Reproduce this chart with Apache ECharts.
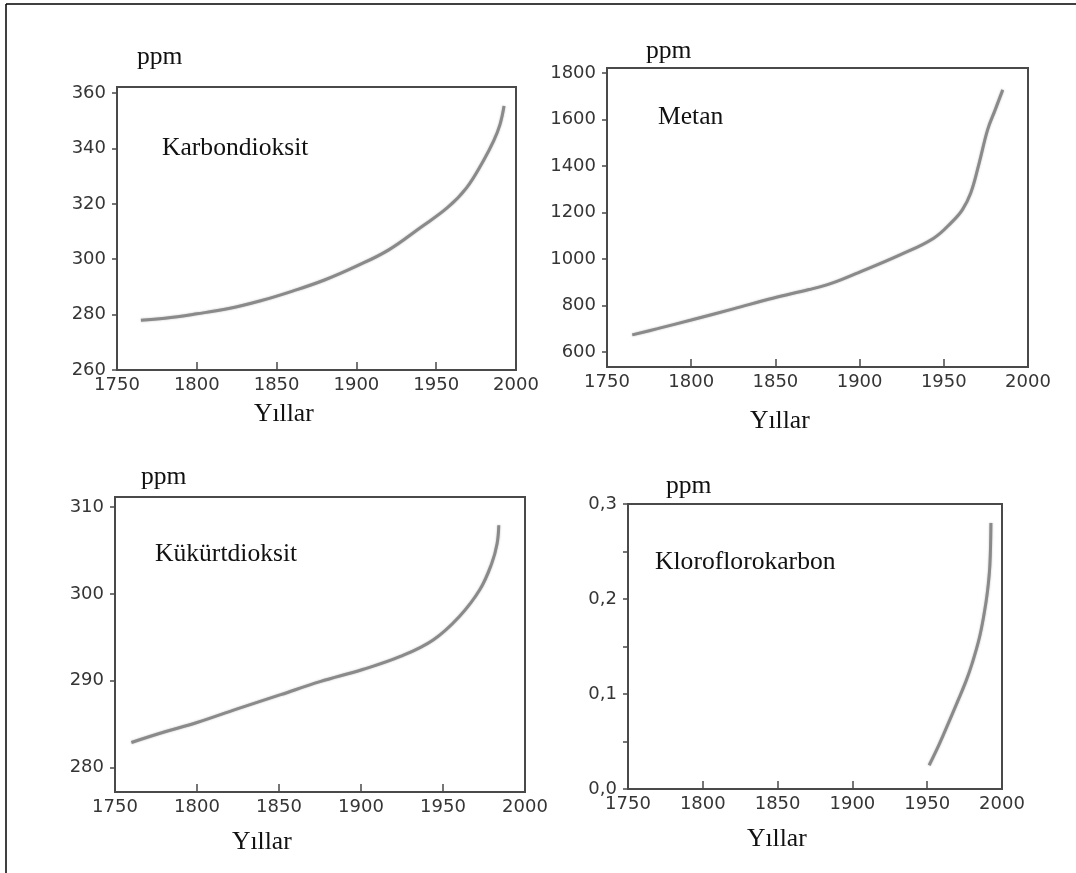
<!DOCTYPE html>
<html>
<head>
<meta charset="utf-8">
<title>Sera gazları</title>
<script src="https://cdn.jsdelivr.net/npm/echarts@6/dist/echarts.min.js"></script>
<style>
  html, body { margin: 0; padding: 0; background: #fff; }
  #chart { width: 1076px; height: 873px; }
</style>
</head>
<body>
<div id="chart"></div>
<script>
// veriler (grafikten okunmuş tahmini değerler)
var yearTicks = [1750, 1800, 1850, 1900, 1950, 2000];

var co2Years = [1765, 1780, 1800, 1820, 1840, 1860, 1880, 1900, 1920, 1940, 1957, 1969, 1979.5, 1986, 1990, 1992.5];
var co2Values = [278, 278.7, 280.3, 282.2, 285, 288.5, 292.5, 297.5, 303.3, 311.4, 318.6, 325.8, 335.5, 342.7, 348.7, 355.3];
var co2Ticks = [260, 280, 300, 320, 340, 360];

var ch4Years = [1765, 1780, 1800, 1825, 1849, 1870, 1884, 1899, 1924, 1944, 1955, 1961, 1966, 1971, 1976, 1980.5, 1985];
var ch4Values = [673, 700, 737, 785, 832, 868, 897, 940, 1017, 1089, 1160, 1211, 1283, 1412, 1555, 1641, 1727];
var ch4Ticks = [600, 800, 1000, 1200, 1400, 1600, 1800];

var so2Years = [1760, 1780, 1800, 1825, 1851, 1875, 1901, 1924, 1944, 1960, 1972.5, 1979.7, 1983, 1984];
var so2Values = [282.9, 284.1, 285.2, 286.8, 288.4, 289.9, 291.3, 292.8, 294.7, 297.4, 300.5, 303.5, 305.8, 307.9];
var so2Ticks = [280, 290, 300, 310];

var cfcYears = [1951.3, 1958, 1964.6, 1970, 1975.8, 1980, 1984.7, 1988, 1990.3, 1991.9, 1992.6];
var cfcValues = [0.025, 0.047, 0.071, 0.091, 0.113, 0.132, 0.158, 0.184, 0.208, 0.236, 0.28];
var cfcLabelTicks = [0, 0.1, 0.2, 0.3];
var cfcTicks = [0, 0.05, 0.1, 0.15, 0.2, 0.25, 0.3];

function pairs(xs, ys) {
  return xs.map(function (x, i) { return [x, ys[i]]; });
}

var chart = echarts.init(document.getElementById('chart'), null, { renderer: 'canvas' });

var tickFont = { fontFamily: 'DejaVu Sans', fontSize: 18, color: '#353535' };
var boxColor = '#4a4a4a';
var lineColor = '#8a8a8a';
var plainFmt = function (v) { return String(v); };
var commaFmt = function (v) { return v.toFixed(1).replace('.', ','); };

var grids = [
  { left: 117, top: 87, width: 399, height: 283 },
  { left: 607, top: 68, width: 421, height: 299 },
  { left: 115, top: 497, width: 410, height: 295 },
  { left: 628, top: 504, width: 374, height: 285 }
];

function xAx(idx) {
  return {
    type: 'value', gridIndex: idx, min: 1750, max: 2000,
    axisLine: { show: false },
    splitLine: { show: false },
    axisTick: { show: true, inside: true, length: 8, customValues: yearTicks,
      lineStyle: { color: boxColor, width: 1.5 } },
    axisLabel: Object.assign({ margin: 6, customValues: yearTicks, formatter: plainFmt }, tickFont)
  };
}

function yAx(idx, min, max, ticks, labels, fmt) {
  return {
    type: 'value', gridIndex: idx, min: min, max: max,
    axisLine: { show: false },
    splitLine: { show: false },
    axisTick: { show: true, inside: false, length: 5, customValues: ticks,
      lineStyle: { color: boxColor, width: 1.5 } },
    axisLabel: Object.assign({ margin: 11, customValues: labels, formatter: fmt || plainFmt }, tickFont)
  };
}

function lineSeries(idx, data) {
  return {
    type: 'line', xAxisIndex: idx, yAxisIndex: idx,
    data: data, showSymbol: false, smooth: 0.4,
    lineStyle: { color: lineColor, width: 3, shadowColor: 'rgba(120,120,120,0.5)', shadowBlur: 2 },
    silent: true, animation: false
  };
}

function txt(x, y, s, size) {
  return {
    type: 'text', left: x, top: y,
    style: { text: s, font: size + 'px "Liberation Serif"', fill: '#111' }
  };
}

chart.setOption({
  animation: false,
  grid: grids.map(function (g) {
    return Object.assign({ show: true, borderColor: boxColor, borderWidth: 2, backgroundColor: 'transparent' }, g);
  }),
  xAxis: [xAx(0), xAx(1), xAx(2), xAx(3)],
  yAxis: [
    yAx(0, 260, 362.2, co2Ticks, co2Ticks),
    yAx(1, 535, 1821, ch4Ticks, ch4Ticks),
    yAx(2, 277.2, 311.15, so2Ticks, so2Ticks),
    yAx(3, 0, 0.3, cfcTicks, cfcLabelTicks, commaFmt)
  ],
  series: [
    lineSeries(0, pairs(co2Years, co2Values)),
    lineSeries(1, pairs(ch4Years, ch4Values)),
    lineSeries(2, pairs(so2Years, so2Values)),
    lineSeries(3, pairs(cfcYears, cfcValues))
  ],
  graphic: [
    // dış çerçeve (üst ve sol)
    { type: 'line', shape: { x1: 6, y1: 4, x2: 1076, y2: 4 }, style: { stroke: '#000', lineWidth: 1.5 } },
    { type: 'line', shape: { x1: 6, y1: 4, x2: 6, y2: 873 }, style: { stroke: '#000', lineWidth: 1.5 } },

    txt(137, 44, 'ppm', 25.6),
    txt(162, 135, 'Karbondioksit', 25.6),
    txt(254, 401, 'Yıllar', 25.6),

    txt(646, 38, 'ppm', 25.6),
    txt(658, 104, 'Metan', 25.6),
    txt(750, 408, 'Yıllar', 25.6),

    txt(141, 464, 'ppm', 25.6),
    txt(155, 541, 'Kükürtdioksit', 25.6),
    txt(232, 829, 'Yıllar', 25.6),

    txt(666, 473, 'ppm', 25.6),
    txt(655, 549, 'Kloroflorokarbon', 25.6),
    txt(747, 826, 'Yıllar', 25.6)
  ]
});
</script>
</body>
</html>
